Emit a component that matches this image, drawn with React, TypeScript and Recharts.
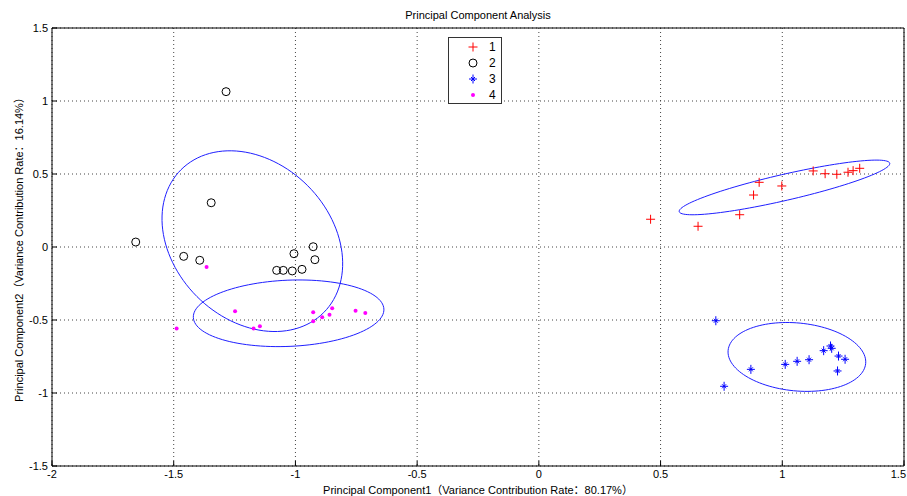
import React from 'react';
import { ScatterChart, Scatter, XAxis, YAxis, CartesianGrid, ReferenceArea, Legend } from 'recharts';

const FONT = '"Liberation Sans", Arial, "Noto Sans CJK SC", sans-serif';

const xTicks = [-2, -1.5, -1, -0.5, 0, 0.5, 1, 1.5];
const yTicks = [-1.5, -1, -0.5, 0, 0.5, 1, 1.5];
const classNames = ['1', '2', '3', '4'];

// class 1 (red +)
const class1PC1 = [0.459, 0.654, 0.825, 0.882, 0.905, 0.998, 1.127, 1.176, 1.224, 1.27, 1.291, 1.318];
const class1PC2 = [0.19, 0.142, 0.221, 0.356, 0.443, 0.418, 0.521, 0.502, 0.498, 0.512, 0.523, 0.539];
// class 2 (black o)
const class2PC1 = [-1.285, -1.346, -1.656, -1.459, -1.393, -0.927, -1.006, -0.92, -1.077, -1.05, -1.013, -0.973];
const class2PC2 = [1.064, 0.303, 0.034, -0.064, -0.091, 0.002, -0.046, -0.087, -0.16, -0.16, -0.164, -0.153];
// class 3 (blue *)
const class3PC1 = [0.727, 0.761, 0.871, 1.012, 1.061, 1.11, 1.17, 1.198, 1.203, 1.231, 1.258, 1.227];
const class3PC2 = [-0.505, -0.954, -0.838, -0.804, -0.783, -0.772, -0.71, -0.678, -0.694, -0.747, -0.769, -0.849];
// class 4 (magenta .)
const class4PC1 = [-1.365, -1.488, -1.248, -1.172, -1.146, -0.927, -0.927, -0.89, -0.86, -0.849, -0.753, -0.713];
const class4PC2 = [-0.137, -0.559, -0.44, -0.559, -0.543, -0.447, -0.509, -0.482, -0.464, -0.42, -0.436, -0.452];

// confidence ellipses: centre and two conjugate semi-axes, in data units
const ellipseCenters = [[1.009, 0.408], [1.06, -0.753], [-1.177, 0.04], [-1.028, -0.454]];
const ellipseAxisA = [[0.4324, 0.1658], [0.2825, -0.0455], [0.2932, -0.489], [0.3914, 0.0286]];
const ellipseAxisB = [[0.0119, -0.087], [-0.0136, -0.2315], [-0.2275, -0.3795], [0.006, -0.2265]];

const toPoints = (xs: number[], ys: number[]) => xs.map((x, i) => ({ x, y: ys[i] }));

const outline = (k: number) => {
  const [cx, cy] = ellipseCenters[k];
  const [ax, ay] = ellipseAxisA[k];
  const [bx, by] = ellipseAxisB[k];
  const pts = [];
  for (let i = 0; i <= 120; i++) {
    const t = (i / 120) * Math.PI * 2;
    pts.push({ x: cx + ax * Math.cos(t) + bx * Math.sin(t), y: cy + ay * Math.cos(t) + by * Math.sin(t) });
  }
  return pts;
};

const Plus = ({ cx, cy }: any) => (
  <path d={`M${cx - 4.5},${cy}h9M${cx},${cy - 4.5}v9`} stroke="#ff0000" strokeWidth={1} fill="none" />
);
const Ring = ({ cx, cy }: any) => <circle cx={cx} cy={cy} r={4} fill="none" stroke="#000" strokeWidth={1} />;
const Star = ({ cx, cy }: any) => (
  <path
    d={`M${cx - 4},${cy}h8M${cx},${cy - 4.5}v9M${cx - 2},${cy - 2}l4,4M${cx - 2},${cy + 2}l4,-4`}
    stroke="#0000ff"
    strokeWidth={1}
    fill="none"
  />
);
const Dot = ({ cx, cy }: any) => <circle cx={cx} cy={cy} r={2} fill="#ff00ff" />;
const NoShape = () => <g />;

const markers = [Plus, Ring, Star, Dot];

const BottomTick = ({ x, y, payload }: any) => {
  const last = payload.value === xTicks[xTicks.length - 1];
  return (
    <g>
      <line x1={x} y1={y} x2={x} y2={y - 5} stroke="#000" />
      <text
        x={last ? x + 2 : x}
        y={y + 12}
        textAnchor={last ? 'end' : 'middle'}
        fontSize={11}
        fontFamily={FONT}
        fill="#000"
      >
        {payload.value}
      </text>
    </g>
  );
};
const LeftTick = ({ x, y, payload }: any) => (
  <g>
    <line x1={x} y1={y} x2={x + 5} y2={y} stroke="#000" />
    <text x={x - 4} y={y + 4} textAnchor="end" fontSize={11} fontFamily={FONT} fill="#000">
      {payload.value}
    </text>
  </g>
);
const TopTick = ({ x, y }: any) => <line x1={x} y1={y} x2={x} y2={y + 5} stroke="#000" />;
const RightTick = ({ x, y }: any) => <line x1={x} y1={y} x2={x - 5} y2={y} stroke="#000" />;

const LegendBox = () => (
  <div style={{ border: '1px solid #333', background: '#fff', width: 52, height: 65, fontFamily: FONT, fontSize: 12 }}>
    {classNames.map((name, i) => {
      const M = markers[i];
      return (
        <div key={name} style={{ position: 'relative', height: 16, marginTop: i === 0 ? 1 : 0 }}>
          <svg width={12} height={12} style={{ position: 'absolute', left: 18, top: 2 }}>
            <M cx={6} cy={6} />
          </svg>
          <span style={{ position: 'absolute', left: 40, top: 1 }}>{name}</span>
        </div>
      );
    })}
  </div>
);

export default function App() {
  const series = [
    toPoints(class1PC1, class1PC2),
    toPoints(class2PC1, class2PC2),
    toPoints(class3PC1, class3PC2),
    toPoints(class4PC1, class4PC2),
  ];
  return (
    <div style={{ position: 'absolute', left: 0, top: 0, width: 907, height: 496, background: '#fff', fontFamily: FONT }}>
      <div style={{ position: 'absolute', left: 478, top: 9, transform: 'translateX(-50%)', fontSize: 11, whiteSpace: 'nowrap' }}>
        Principal Component Analysis
      </div>
      <ScatterChart width={907} height={496} margin={{ top: 28, right: 3, bottom: 0, left: 0 }}>
        <CartesianGrid strokeDasharray="1 3" stroke="#444" />
        <XAxis
          type="number"
          dataKey="x"
          domain={[-2, 1.5]}
          ticks={xTicks}
          interval={0}
          height={30}
          tickSize={0}
          tickMargin={0}
          axisLine={false}
          tick={<BottomTick />}
          allowDataOverflow
        />
        <XAxis
          xAxisId="top"
          orientation="top"
          type="number"
          domain={[-2, 1.5]}
          ticks={xTicks}
          interval={0}
          height={0}
          tickSize={0}
          tickMargin={0}
          axisLine={false}
          tick={<TopTick />}
        />
        <YAxis
          type="number"
          dataKey="y"
          domain={[-1.5, 1.5]}
          ticks={yTicks}
          interval={0}
          width={52}
          tickSize={0}
          tickMargin={0}
          axisLine={false}
          tick={<LeftTick />}
          allowDataOverflow
        />
        <YAxis
          yAxisId="right"
          orientation="right"
          type="number"
          domain={[-1.5, 1.5]}
          ticks={yTicks}
          interval={0}
          width={0}
          tickSize={0}
          tickMargin={0}
          axisLine={false}
          tick={<RightTick />}
        />
        {ellipseCenters.map((_, k) => (
          <Scatter
            key={`e${k}`}
            data={outline(k)}
            line={{ stroke: '#1f1fff', strokeWidth: 1 }}
            shape={NoShape}
            legendType="none"
            isAnimationActive={false}
          />
        ))}
        {series.map((pts, i) => (
          <Scatter key={classNames[i]} name={classNames[i]} data={pts} shape={markers[i]} isAnimationActive={false} />
        ))}
        <ReferenceArea x1={-2} x2={1.5} y1={-1.5} y2={1.5} fill="none" fillOpacity={0} stroke="#000" strokeWidth={1} />
        <Legend
          layout="vertical"
          align="center"
          verticalAlign="middle"
          content={<LegendBox />}
          wrapperStyle={{ left: 448, top: 37, width: 54, height: 67 }}
        />
      </ScatterChart>
      <div style={{ position: 'absolute', left: 478, top: 481, transform: 'translateX(-50%)', fontSize: 11, whiteSpace: 'nowrap' }}>
        Principal Component1（Variance Contribution Rate：80.17%）
      </div>
      <div
        style={{
          position: 'absolute',
          left: 18,
          top: 247,
          transform: 'translate(-50%, -50%) rotate(-90deg)',
          fontSize: 11,
          whiteSpace: 'nowrap',
        }}
      >
        Principal Component2（Variance Contribution Rate：16.14%）
      </div>
    </div>
  );
}
